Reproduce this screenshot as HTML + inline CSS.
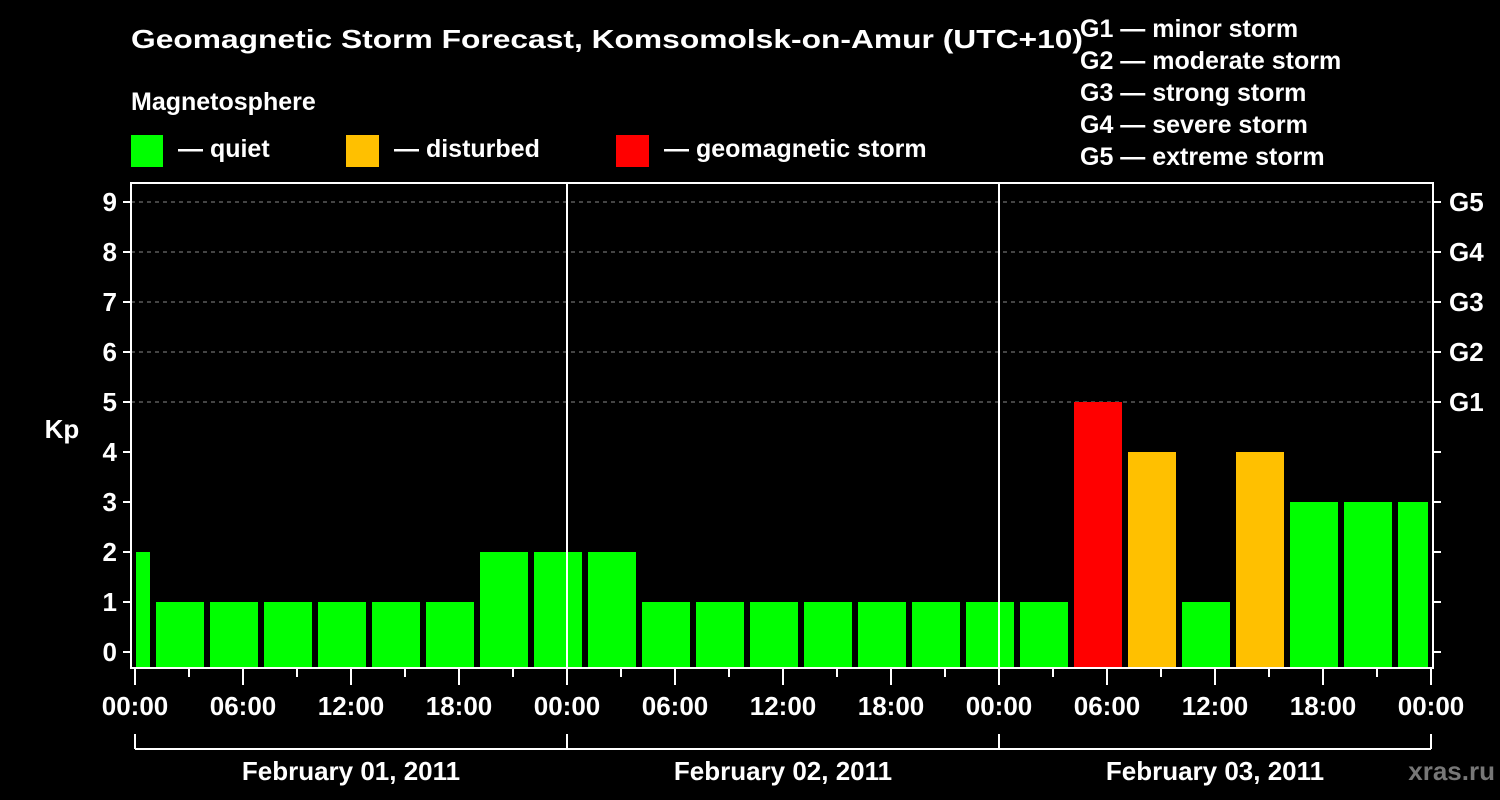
<!DOCTYPE html>
<html><head><meta charset="utf-8"><style>
html,body{margin:0;padding:0;background:#000;}
svg{display:block;font-family:"Liberation Sans",Arial,sans-serif;font-weight:bold;}
</style></head><body>
<svg id="chart" width="1500" height="800" viewBox="0 0 1500 800">
<rect x="0" y="0" width="1500" height="800" fill="#000"/>
<text x="131" y="48" font-size="26" fill="#fff" textLength="952" lengthAdjust="spacingAndGlyphs">Geomagnetic Storm Forecast, Komsomolsk-on-Amur (UTC+10)</text>
<text x="131" y="110" font-size="25" fill="#fff">Magnetosphere</text>
<g><rect x="131" y="135" width="32" height="32" fill="#00ff00"/><text x="178" y="157" font-size="25" fill="#fff">— quiet</text></g>
<g><rect x="346" y="135" width="33" height="32" fill="#ffc000"/><text x="394" y="157" font-size="25" fill="#fff">— disturbed</text></g>
<g><rect x="616" y="135" width="33" height="32" fill="#ff0000"/><text x="664" y="157" font-size="25" fill="#fff">— geomagnetic storm</text></g>
<g font-size="25" fill="#fff">
<text x="1080" y="37">G1 — minor storm</text>
<text x="1080" y="69">G2 — moderate storm</text>
<text x="1080" y="101">G3 — strong storm</text>
<text x="1080" y="133">G4 — severe storm</text>
<text x="1080" y="165">G5 — extreme storm</text>
</g>
<g id="grid"></g>
<g id="bars"></g>
<g id="axes"></g>
<text x="62" y="438" font-size="26" fill="#fff" text-anchor="middle">Kp</text>
<text x="1495" y="780" font-size="26" fill="#777" text-anchor="end">xras.ru</text>
</svg>
<script>
const kpValues = [2,1,1,1,1,1,1,2,2,2,1,1,1,1,1,1,1,1,5,4,1,4,3,3,3];
const yTicks = [0,1,2,3,4,5,6,7,8,9];
const gLabels = ["G1","G2","G3","G4","G5"];
const gLevels = [5,6,7,8,9];
const xTickLabels = ["00:00","06:00","12:00","18:00","00:00","06:00","12:00","18:00","00:00","06:00","12:00","18:00","00:00"];
const dayLabels = ["February 01, 2011","February 02, 2011","February 03, 2011"];

const NS="http://www.w3.org/2000/svg";
const L=131,R=1433,T=183,B=668;
const x0=135, pxPerHour=18;
function xs(h){return x0+h*pxPerHour;}
function ys(k){return 652-50*k;}
function mk(tag,attrs,parent,txt){const e=document.createElementNS(NS,tag);for(const k in attrs)e.setAttribute(k,attrs[k]);if(txt!==undefined)e.textContent=txt;parent.appendChild(e);return e;}
const grid=document.getElementById('grid'),bars=document.getElementById('bars'),axes=document.getElementById('axes');
const totalHours=(xTickLabels.length-1)*6;

gLevels.forEach(function(k){
  const l=mk('line',{x1:L,x2:R,y1:ys(k),y2:ys(k),stroke:'#888','stroke-width':1,'stroke-dasharray':'4,4'},grid);
  
  
});

kpValues.forEach(function(v,i){
  let s=xs(3*i-2)+3, e=xs(3*i+1)-3;
  s=Math.max(s,x0+1); e=Math.min(e,xs(totalHours)-3);
  const c=v>=5?'#ff0000':(v>=4?'#ffc000':'#00ff00');
  const r=mk('rect',{x:s,y:ys(v),width:e-s,height:B-ys(v),fill:c},bars);
  
  
});

// day divider lines
for(let d=1;d<dayLabels.length;d++){
  const l=mk('line',{x1:xs(24*d),x2:xs(24*d),y1:T,y2:B,stroke:'#fff','stroke-width':2},axes);
  
  
}
const frame=mk('rect',{x:L,y:T,width:R-L,height:B-T,fill:'none',stroke:'#fff','stroke-width':2},axes);



yTicks.forEach(function(k){
  mk('line',{x1:L-8,x2:L,y1:ys(k),y2:ys(k),stroke:'#fff','stroke-width':2},axes);
  mk('line',{x1:R,x2:R+8,y1:ys(k),y2:ys(k),stroke:'#fff','stroke-width':2},axes);
  const t=mk('text',{x:L-14,y:ys(k)+9,'font-size':26,fill:'#fff','text-anchor':'end'},axes,String(k));
  
  
});
gLabels.forEach(function(g,i){
  const t=mk('text',{x:1449,y:ys(gLevels[i])+9,'font-size':26,fill:'#fff'},axes,g);
  
  
});

for(let h=0;h<=totalHours;h+=3){
  const major=h%6===0;
  mk('line',{x1:xs(h),x2:xs(h),y1:B+1,y2:major?685:677,stroke:'#fff','stroke-width':2},axes);
}
xTickLabels.forEach(function(lab,i){
  const t=mk('text',{x:xs(6*i),y:715,'font-size':26,fill:'#fff','text-anchor':'middle'},axes,lab);
  
  
});

mk('line',{x1:xs(0),x2:xs(totalHours),y1:749,y2:749,stroke:'#fff','stroke-width':2},axes);
for(let d=0;d<=dayLabels.length;d++){
  mk('line',{x1:xs(24*d),x2:xs(24*d),y1:734,y2:749,stroke:'#fff','stroke-width':2},axes);
}
dayLabels.forEach(function(lab,d){
  const t=mk('text',{x:xs(24*d+12),y:780,'font-size':26,fill:'#fff','text-anchor':'middle'},axes,lab);
  
  
});
</script>
</body></html>
